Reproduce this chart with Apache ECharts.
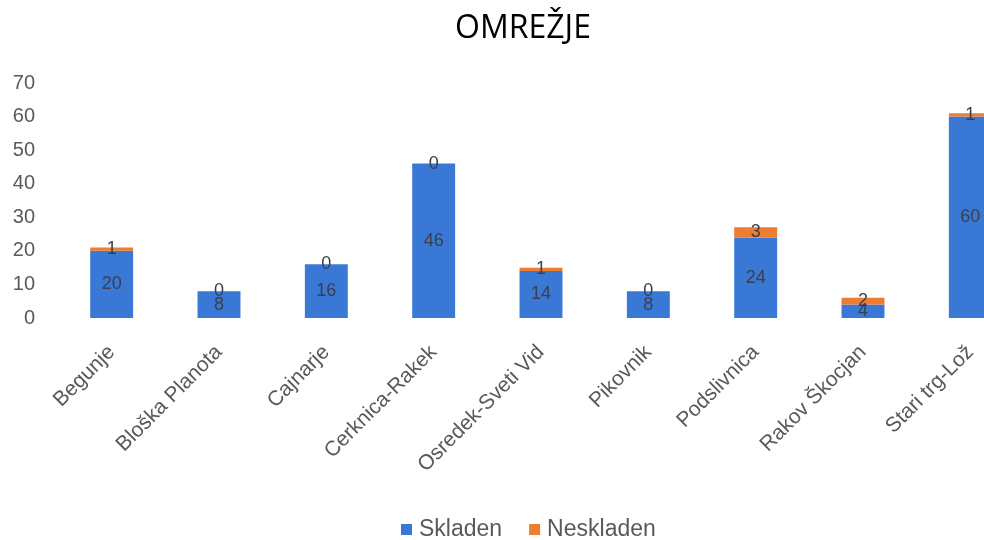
<!DOCTYPE html>
<html><head><meta charset="utf-8">
<script src="https://cdn.jsdelivr.net/npm/echarts@6/dist/echarts.min.js"></script>
<style>html,body{margin:0;padding:0;background:#fff}#c{width:984px;height:540px}</style>
</head><body><div id="c"></div>
<script>
const categories = ["Begunje","Bloška Planota","Cajnarje","Cerknica-Rakek","Osredek-Sveti Vid","Pikovnik","Podslivnica","Rakov Škocjan","Stari trg-Lož"];
const skladen = [20,8,16,46,14,8,24,4,60];
const neskladen = [1,0,0,0,1,0,3,2,1];
const seriesNames = ["Skladen","Neskladen"];
const chart = echarts.init(document.getElementById('c'));
const labelStyle = {show:true, position:'inside', color:'#3a3f4a', fontSize:18, fontFamily:'Liberation Sans'};
chart.setOption({
  animation:false,
  title:{text:'OMREŽJE', left:518, top:8, textAlign:'center',
    textStyle:{fontSize:32, fontWeight:'normal', color:'#000', fontFamily:'Open Sans'}},
  legend:{top:513, left:396, itemWidth:11, itemHeight:11, itemGap:27, icon:'rect',
    textStyle:{fontSize:23, color:'#595959', fontFamily:'Liberation Sans', padding:[0,0,0,2]}, data:seriesNames},
  grid:{left:58, width:966, top:83, height:235, containLabel:false, outerBoundsMode:'none'},
  xAxis:{type:'category', data:categories,
    axisLine:{show:false}, axisTick:{show:false},
    axisLabel:{rotate:45, interval:0, margin:31, fontSize:21, color:'#595959', fontFamily:'Liberation Sans'}},
  yAxis:{type:'value', min:0, max:70, interval:10,
    axisLine:{show:false}, axisTick:{show:false}, splitLine:{show:false},
    axisLabel:{margin:23, fontSize:20, color:'#595959', fontFamily:'Liberation Sans'}},
  series:[
    {name:seriesNames[0], type:'bar', stack:'a', data:skladen, barCategoryGap:'60%',
      itemStyle:{color:'#3A78D6'}, label:labelStyle},
    {name:seriesNames[1], type:'bar', stack:'a', data:neskladen,
      itemStyle:{color:'#ED7D31'}, label:labelStyle}
  ]
});
</script></body></html>
